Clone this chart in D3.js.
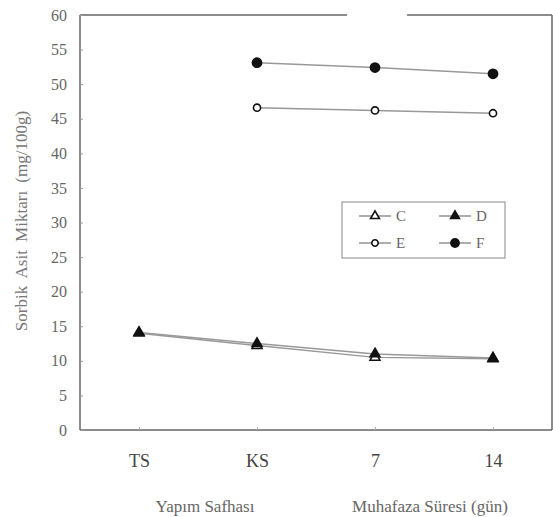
<!DOCTYPE html>
<html>
<head>
<meta charset="utf-8">
<script src="https://cdn.jsdelivr.net/npm/d3@7"></script>
<style>
  html, body { margin: 0; padding: 0; background: #fff; }
  svg text { font-family: "Times New Roman", "Liberation Serif", "DejaVu Serif", serif; }
</style>
</head>
<body>
<svg id="chart" width="553" height="517"></svg>
<script>
// Sorbic acid content per production stage / storage time
const categories = ["TS", "KS", "7", "14"];
const yTicks = [0, 5, 10, 15, 20, 25, 30, 35, 40, 45, 50, 55, 60];
const seriesC = [14.0, 12.2, 10.5, 10.3];
const seriesD = [14.1, 12.5, 11.0, 10.4];
const seriesE = [null, 46.6, 46.2, 45.8];
const seriesF = [null, 53.1, 52.4, 51.5];
const seriesNames = ["C", "D", "E", "F"];

const serif = "\"Times New Roman\", \"Liberation Serif\", \"DejaVu Serif\", serif";

const series = [
  { name: "C", values: seriesC, shape: "triangle", filled: false, size: 42 },
  { name: "D", values: seriesD, shape: "triangle", filled: true, size: 42 },
  { name: "E", values: seriesE, shape: "circle", filled: false, size: 40 },
  { name: "F", values: seriesF, shape: "circle", filled: true, size: 66 }
];

const svg = d3.select("#chart");
const plotL = 80, plotR = 552, plotT = 15, plotB = 430;

const x = d3.scalePoint().domain(categories).range([plotL, plotR]).padding(0.5);
const y = d3.scaleLinear().domain([0, 60]).range([plotB, plotT]);

// Frame (top edge is broken in two pieces)
const frame = svg.append("g").attr("stroke", "#666").attr("stroke-width", 1.5).attr("fill", "none");
frame.append("line").attr("x1", plotL).attr("x2", plotL).attr("y1", plotT).attr("y2", plotB);
frame.append("line").attr("x1", plotL).attr("x2", plotR).attr("y1", plotB).attr("y2", plotB);
frame.append("line").attr("x1", plotR).attr("x2", plotR).attr("y1", plotT).attr("y2", plotB);
frame.append("line").attr("x1", plotL).attr("x2", 347).attr("y1", plotT).attr("y2", plotT);
frame.append("line").attr("x1", 407).attr("x2", plotR).attr("y1", plotT).attr("y2", plotT);

// Y axis
const yAxis = d3.axisLeft(y).tickValues(yTicks).tickSize(-3).tickPadding(13).tickFormat(d3.format("d"));
const gy = svg.append("g").attr("transform", `translate(${plotL},0)`).call(yAxis)
  .attr("font-family", serif).attr("font-size", 16);
gy.select(".domain").remove();
gy.selectAll("line").attr("stroke", "#999");
gy.selectAll("text").attr("font-family", serif).attr("fill", "#666");

// X axis
const xAxis = d3.axisBottom(x).tickSize(-3).tickPadding(24);
const gx = svg.append("g").attr("transform", `translate(0,${plotB})`).call(xAxis)
  .attr("font-family", serif).attr("font-size", 18);
gx.select(".domain").remove();
gx.selectAll("line").attr("stroke", "#aaa");
gx.selectAll("text").attr("font-family", serif).attr("fill", "#444");

// Axis titles
svg.append("text")
  .attr("transform", `translate(27,221) rotate(-90)`)
  .attr("text-anchor", "middle").attr("font-size", 17).attr("fill", "#777")
  .attr("font-family", serif).attr("word-spacing", 4)
  .text("Sorbik Asit Miktarı (mg/100g)");
svg.append("text").attr("x", 205).attr("y", 512).attr("text-anchor", "middle")
  .attr("font-size", 17).attr("fill", "#666").attr("font-family", serif).text("Yapım Safhası");
svg.append("text").attr("x", 430).attr("y", 512).attr("text-anchor", "middle")
  .attr("font-size", 17).attr("fill", "#666").attr("font-family", serif).text("Muhafaza Süresi (gün)");

function drawMarker(g, s, cx, cy, scale = 1) {
  const sym = d3.symbol()
    .type(s.shape === "triangle" ? d3.symbolTriangle : d3.symbolCircle)
    .size(s.size * scale);
  g.append("path")
    .attr("d", sym())
    .attr("transform", `translate(${cx},${cy})`)
    .attr("fill", s.filled ? "#111" : "#fff")
    .attr("stroke", "#111").attr("stroke-width", 1.6);
}

// Lines and markers
const line = d3.line()
  .defined(d => d.v != null)
  .x(d => x(d.c)).y(d => y(d.v));

series.forEach(s => {
  const pts = categories.map((c, i) => ({ c, v: s.values[i] }));
  svg.append("path").datum(pts).attr("d", line)
    .attr("fill", "none").attr("stroke", "#999").attr("stroke-width", 1.5);
});
series.forEach(s => {
  const g = svg.append("g");
  categories.forEach((c, i) => {
    if (s.values[i] != null) drawMarker(g, s, x(c), y(s.values[i]));
  });
});

// Legend
const lg = svg.append("g");
lg.append("rect").attr("x", 342).attr("y", 202).attr("width", 163).attr("height", 56)
  .attr("fill", "#fff").attr("stroke", "#888").attr("stroke-width", 1);
const legendPos = [[375, 216], [455, 216], [375, 243], [455, 243]];
series.forEach((s, i) => {
  const [cx, cy] = legendPos[i];
  lg.append("line").attr("x1", cx - 16).attr("x2", cx + 16).attr("y1", cy).attr("y2", cy)
    .attr("stroke", "#777").attr("stroke-width", 1.2);
  drawMarker(lg, s, cx, cy, 0.8);
  lg.append("text").attr("x", cx + 21).attr("y", cy + 5).attr("font-size", 15)
    .attr("fill", "#666").attr("font-family", serif).text(seriesNames[i]);
});
</script>
</body>
</html>
